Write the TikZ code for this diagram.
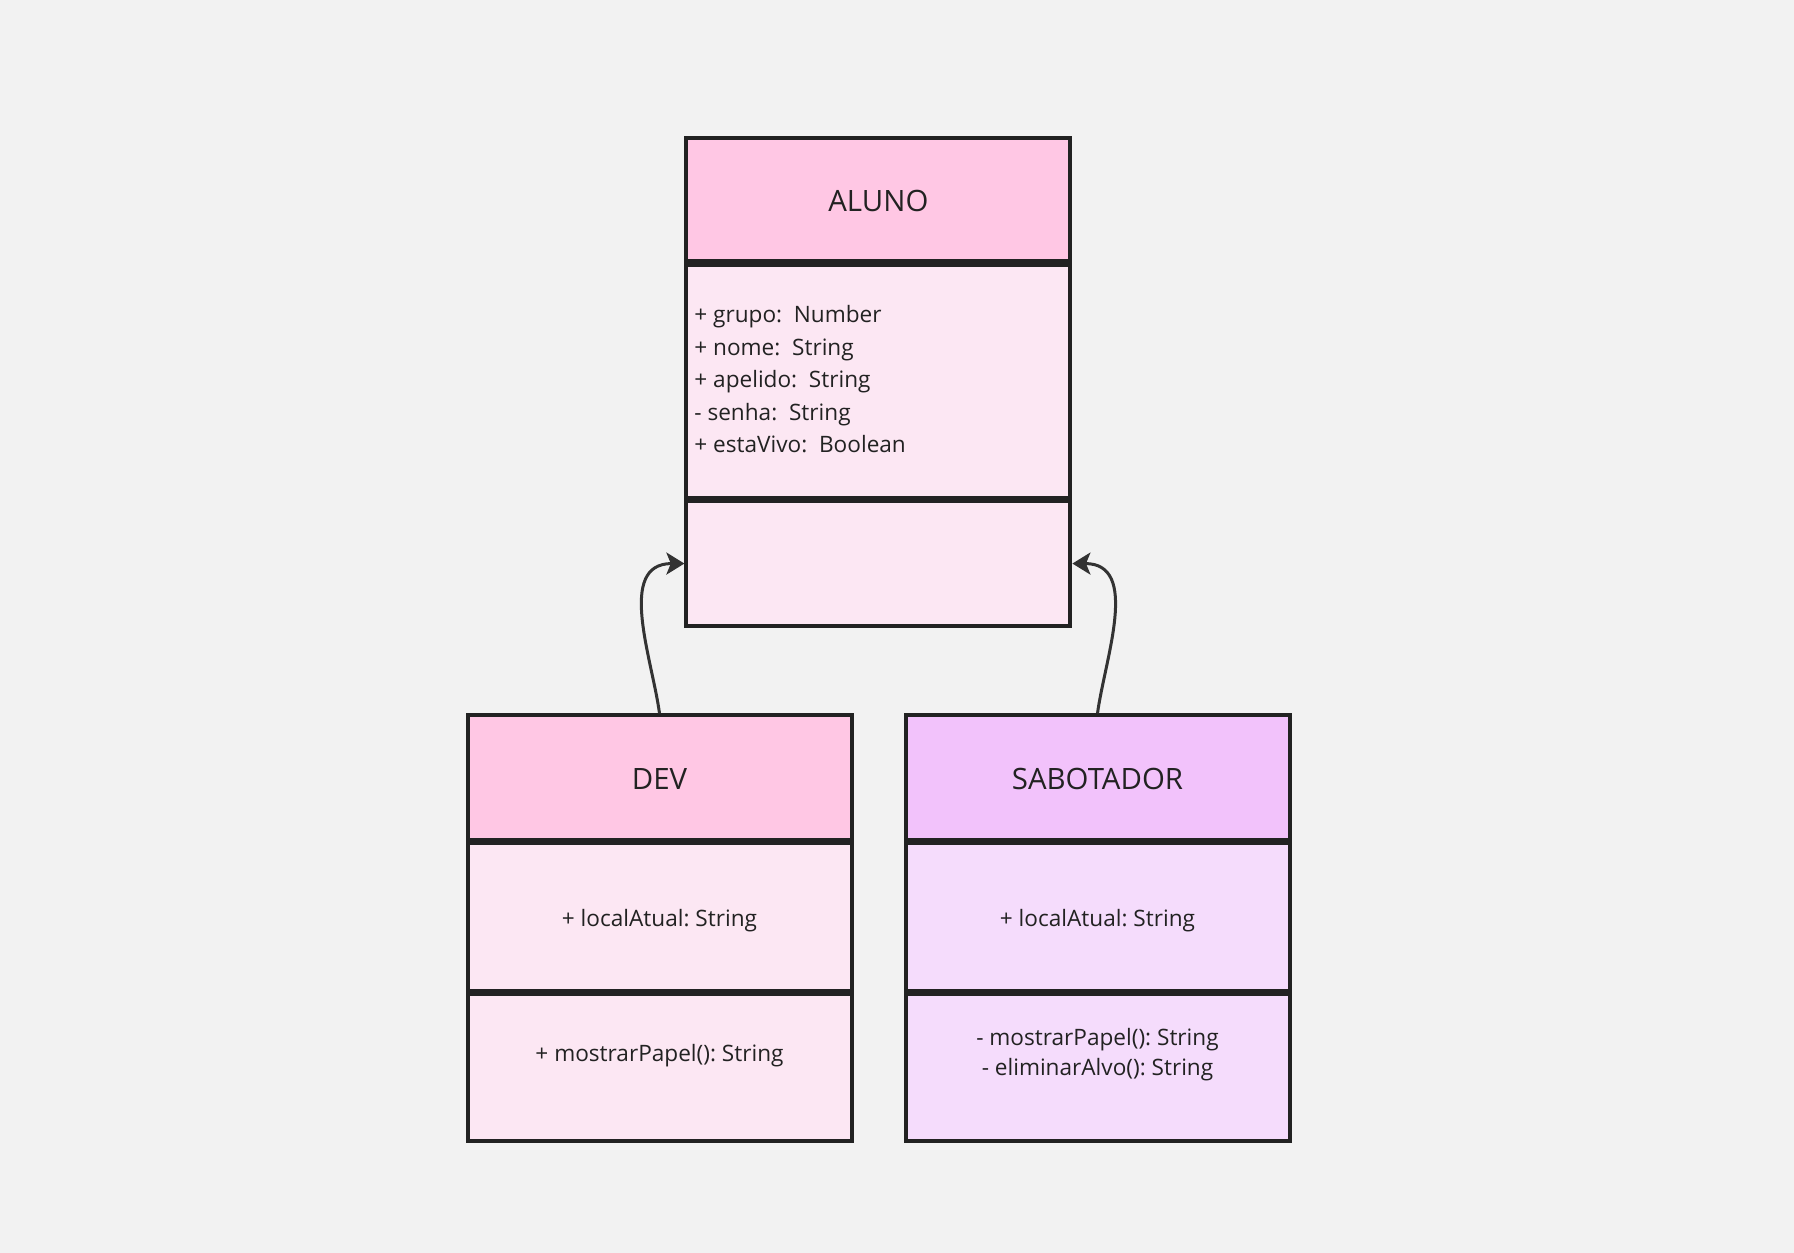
\documentclass[tikz,border=0pt]{standalone}
\usepackage{fontspec}
\setmainfont{Open Sans}
\usetikzlibrary{arrows.meta}
\definecolor{bg}{HTML}{F2F2F2}
\definecolor{pinkhead}{HTML}{FFC7E4}
\definecolor{pinkbody}{HTML}{FCE7F3}
\definecolor{purphead}{HTML}{F2C2FB}
\definecolor{purpbody}{HTML}{F5DCFC}
\definecolor{edgec}{HTML}{222222}
\definecolor{inkc}{HTML}{222222}
\definecolor{arrowc}{HTML}{333333}
\begin{document}
\begin{tikzpicture}[x=0.5pt,y=-0.5pt,
 comp/.style={draw=edgec, line width=2pt, rectangle, inner sep=0pt, minimum width=192pt},
 titletext/.style={font=\fontsize{14.7}{17}\selectfont, text=inkc, inner sep=0pt},
 member/.style={font=\fontsize{11.3}{14}\selectfont\frenchspacing, text=inkc, inner sep=0pt},
 inherit/.style={draw=arrowc, line width=1.5pt, -{Stealth[length=9pt,width=11pt,inset=2.2pt]}}
]
\fill[bg] (0,0) rectangle (1794,1253);
\useasboundingbox (0,0) rectangle (1794,1253);

% ALUNO
\node[comp, fill=pinkhead, minimum height=61.95pt] (alh) at (878.4,199.45) {};
\node[comp, fill=pinkbody, minimum height=116.4pt] (ala) at (878.4,381.8) {};
\node[comp, fill=pinkbody, minimum height=62.45pt] (alm) at (878.4,563.55) {};
\node[titletext] (alt) at (878.4,201) {ALUNO};
\node[member, anchor=base west] (a1) at (694,322.7) {+ grupo:\ \ Number};
\node[member, anchor=base west] (a2) at (694,355.2) {+ nome:\ \ String};
\node[member, anchor=base west] (a3) at (694,387.7) {+ apelido:\ \ String};
\node[member, anchor=base west] (a4) at (694,420.2) {- senha:\ \ String};
\node[member, anchor=base west] (a5) at (694,452.7) {+ estaVivo:\ \ Boolean};

% DEV
\node[comp, fill=pinkhead, minimum height=62.35pt] (devh) at (659.5,777.65) {};
\node[comp, fill=pinkbody, minimum height=73.75pt] (deva) at (659.5,917.05) {};
\node[comp, fill=pinkbody, minimum height=73.55pt] (devm) at (659.5,1067.75) {};
\node[titletext] (devt) at (659.5,778.5) {DEV};
\node[member, anchor=base] (dl) at (659.5,926.5) {+ localAtual: String};
\node[member, anchor=base] (dm) at (659.5,1061.5) {+ mostrarPapel(): String};

% SABOTADOR
\node[comp, fill=purphead, minimum height=62.35pt] (sabh) at (1097.5,777.65) {};
\node[comp, fill=purpbody, minimum height=73.75pt] (saba) at (1097.5,917.05) {};
\node[comp, fill=purpbody, minimum height=73.55pt] (sabm) at (1097.5,1067.75) {};
\node[titletext] (sabt) at (1097.5,778.5) {SABOTADOR};
\node[member, anchor=base] (sl) at (1097.5,926.5) {+ localAtual: String};
\node[member, anchor=base] (sm1) at (1097.5,1045) {- mostrarPapel(): String};
\node[member, anchor=base] (sm2) at (1097.5,1075.5) {- eliminarAlvo(): String};

% inheritance
\draw[inherit] (devh.north) .. controls +(-7.5,-55) and +(-68,0) .. (alm.west);
\draw[inherit] (sabh.north) .. controls +(7.5,-55) and +(68,0) .. (alm.east);
\end{tikzpicture}
\end{document}
